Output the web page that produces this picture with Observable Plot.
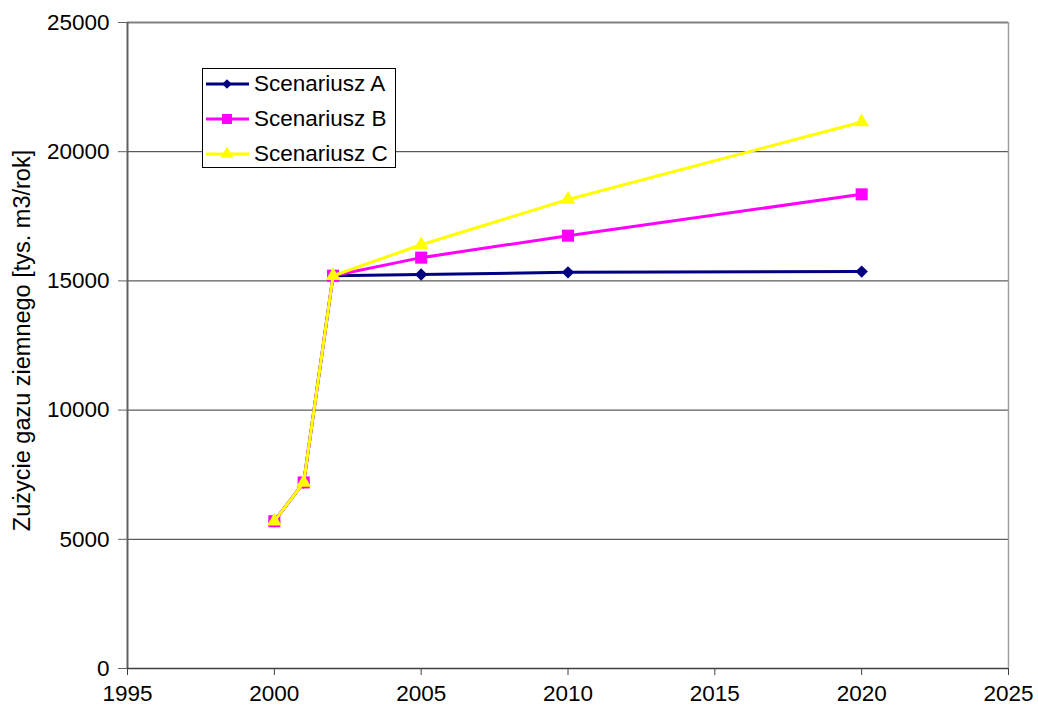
<!DOCTYPE html>
<html>
<head>
<meta charset="utf-8">
<script src="https://cdn.jsdelivr.net/npm/d3@7"></script>
<script src="https://cdn.jsdelivr.net/npm/@observablehq/plot@0.6"></script>
<style>
  html, body { margin: 0; padding: 0; background: #fff; }
  #wrap { position: relative; width: 1038px; height: 715px; font-family: "Liberation Sans", Arial, sans-serif; }
  #legend { position: absolute; left: 202px; top: 68px; width: 194px; height: 100px; border: 1px solid #000; background: #fff; box-sizing: border-box; }
  .row { position: absolute; left: 0; height: 30px; display: flex; align-items: center; }
  .row span { font-size: 22.5px; color: #000; margin-left: 3px; }
</style>
</head>
<body>
<div id="wrap"></div>
<script>
const years = [2000, 2001, 2002, 2005, 2010, 2020];
const seriesNames = ["Scenariusz A", "Scenariusz B", "Scenariusz C"];
const scenA = [5700, 7200, 15200, 15250, 15330, 15360];
const scenB = [5700, 7200, 15200, 15900, 16750, 18350];
const scenC = [5700, 7200, 15200, 16400, 18150, 21150];
const xTicks = [1995, 2000, 2005, 2010, 2015, 2020, 2025];
const yTicks = [0, 5000, 10000, 15000, 20000, 25000];
const yLabel = "Zużycie gazu ziemnego [tys. m3/rok]";

const colors = ["#000080", "#FF00FF", "#FFFF00"];
const symbols = ["diamond2", "square", "triangle2"];
const sizes = [5.6, 6.8, 7];

const allSeries = [scenA, scenB, scenC];
const data = [];
allSeries.forEach((vals, si) => {
  vals.forEach((v, i) => data.push({series: seriesNames[si], year: years[i], value: v}));
});

const marks = [
  Plot.ruleY(yTicks.filter(d => d > 0 && d < 25000), {stroke: "#000", strokeOpacity: 0.8, strokeWidth: 1}),
  Plot.ruleY([25000], {stroke: "#808080", strokeWidth: 2}),
  Plot.ruleX([2025], {stroke: "#a0a0a0", strokeWidth: 1.5}),
  Plot.ruleX([1995], {stroke: "#606060", strokeWidth: 2}),
  Plot.ruleY([0], {stroke: "#404040", strokeWidth: 1.5})
];
seriesNames.forEach((name, si) => {
  const d = data.filter(r => r.series === name);
  marks.push(Plot.line(d, {x: "year", y: "value", stroke: colors[si], strokeWidth: 3}));
  marks.push(Plot.dot(d, {x: "year", y: "value", fill: colors[si], stroke: "none", symbol: symbols[si], r: sizes[si]}));
});

const chart = Plot.plot({
  width: 1038,
  height: 715,
  marginLeft: 127,
  marginRight: 30,
  marginTop: 22,
  marginBottom: 47,
  style: {fontFamily: "Liberation Sans, Arial, sans-serif", fontSize: "22.5px", color: "#000", background: "#fff"},
  x: {domain: [1995, 2025]},
  y: {domain: [0, 25000]},
  symbol: {type: "identity"},
  marks: [
    Plot.axisX({ticks: xTicks, tickFormat: d => String(d), tickSize: 7, tickPadding: 10, label: null, stroke: "#404040", fontSize: 22.5}),
    Plot.axisY({ticks: yTicks, tickFormat: d => String(d), tickSize: 9, tickPadding: 9, label: null, stroke: "#606060", fontSize: 22.5}),
    Plot.text([yLabel], {frameAnchor: "left", textAnchor: "middle", dx: -105, dy: -5, rotate: -90, fontSize: 23.5, text: d => d, fill: "#000"}),
    ...marks
  ]
});
document.getElementById("wrap").appendChild(chart);

// legend
const legend = document.createElement("div");
legend.id = "legend";
const rowTops = [0, 35, 70];
seriesNames.forEach((name, si) => {
  const row = document.createElement("div");
  row.className = "row";
  row.style.top = rowTops[si] + "px";
  const sw = d3.create("svg").attr("width", 48).attr("height", 30);
  sw.append("line").attr("x1", 3).attr("x2", 46).attr("y1", 15).attr("y2", 15).attr("stroke", colors[si]).attr("stroke-width", 3);
  const sym = [d3.symbolDiamond2, d3.symbolSquare, d3.symbolTriangle2][si];
  const sz = [60, 100, 120][si];
  sw.append("path").attr("d", d3.symbol(sym, sz)()).attr("transform", "translate(24,15)").attr("fill", colors[si]);
  row.appendChild(sw.node());
  const sp = document.createElement("span");
  sp.textContent = name;
  row.appendChild(sp);
  legend.appendChild(row);
});
document.getElementById("wrap").appendChild(legend);
</script>
</body>
</html>
